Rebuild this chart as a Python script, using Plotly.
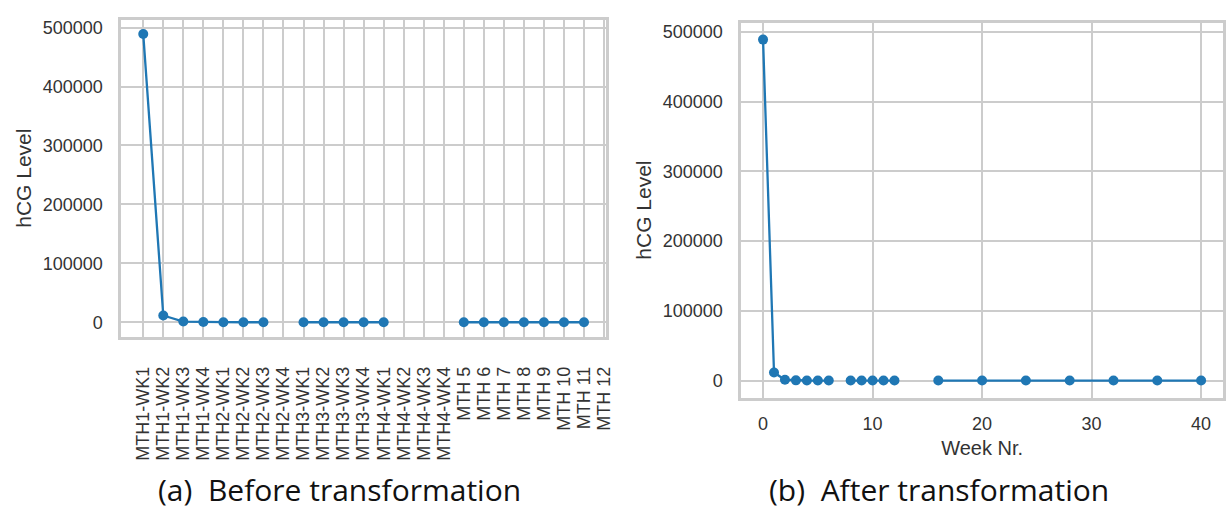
import plotly.graph_objects as go

# ---- data ----
categories = ["MTH1-WK1", "MTH1-WK2", "MTH1-WK3", "MTH1-WK4",
              "MTH2-WK1", "MTH2-WK2", "MTH2-WK3", "MTH2-WK4",
              "MTH3-WK1", "MTH3-WK2", "MTH3-WK3", "MTH3-WK4",
              "MTH4-WK1", "MTH4-WK2", "MTH4-WK3", "MTH4-WK4",
              "MTH 5", "MTH 6", "MTH 7", "MTH 8", "MTH 9", "MTH 10", "MTH 11", "MTH 12"]
week_nr = [0, 1, 2, 3, 4, 5, 6, 7, 8, 9, 10, 11, 12, 13, 14, 15,
           16, 20, 24, 28, 32, 36, 40, 44]
hcg_level = [489000, 11500, 1200, 300, 100, 50, 20, None,
             10, 5, 5, 5, 5, None, None, None,
             5, 5, 5, 5, 5, 5, 5, None]
y_ticks = [0, 100000, 200000, 300000, 400000, 500000]
week_ticks = [0, 10, 20, 30, 40]
captions = ["(a)  Before transformation", "(b)  After transformation"]

BLUE = "#1f77b4"
GRID = "#cccccc"
TXT = "#333333"
FONT = "Liberation Sans, Arial, sans-serif"

fig = go.Figure()
marker = dict(color=BLUE, size=10)
line = dict(color=BLUE, width=2.3)

fig.add_trace(go.Scatter(x=categories, y=hcg_level, mode="lines+markers",
                         marker=marker, line=line, xaxis="x", yaxis="y",
                         connectgaps=False, showlegend=False))
fig.add_trace(go.Scatter(x=week_nr, y=hcg_level, mode="lines+markers",
                         marker=marker, line=line, xaxis="x2", yaxis="y2",
                         connectgaps=False, showlegend=False))

W, H = 1232, 516
common_axis = dict(showgrid=True, gridcolor=GRID, gridwidth=1.7,
                   showline=True, linecolor=GRID, linewidth=2.5, mirror=True,
                   zeroline=False, ticks="outside", tickcolor="rgba(0,0,0,0)",
                   tickfont=dict(family=FONT, size=18, color=TXT))

yax = dict(common_axis, range=[-24500, 513500], tickvals=y_ticks,
           tickformat="d", ticklen=12,
           title=dict(text="hCG Level", font=dict(family=FONT, size=21, color=TXT),
                      standoff=6))

fig.update_layout(
    width=W, height=H,
    margin=dict(l=0, r=0, t=0, b=0),
    paper_bgcolor="white", plot_bgcolor="white",
    xaxis=dict(common_axis, type="category", categoryorder="array",
               categoryarray=categories, range=[-1.1, 23.1],
               tickmode="array", tickvals=categories, ticktext=categories,
               tickangle=-90, ticklen=20,
               domain=[122 / W, 610 / W], anchor="y"),
    yaxis=dict(yax, domain=[1 - 336 / H, 1 - 17.7 / H], anchor="x"),
    xaxis2=dict(common_axis, range=[-2, 42], tickvals=week_ticks,
                ticklen=8,
                title=dict(text="Week Nr.", font=dict(family=FONT, size=20, color=TXT),
                           standoff=8),
                domain=[746 / W, 1231 / W], anchor="y2"),
    yaxis2=dict(yax, domain=[1 - 397.2 / H, 1 - 20.6 / H], anchor="x2"),
)

cap_font = dict(family="Open Sans, Noto Sans, sans-serif", size=30, color="#111111")
fig.add_annotation(text=captions[0], x=342 / W, y=1 - 489 / H, xref="paper", yref="paper",
                   showarrow=False, font=cap_font, xanchor="center", yanchor="middle")
fig.add_annotation(text=captions[1], x=945 / W, y=1 - 489 / H, xref="paper", yref="paper",
                   showarrow=False, font=cap_font, xanchor="center", yanchor="middle")

fig.write_html("out.html")
